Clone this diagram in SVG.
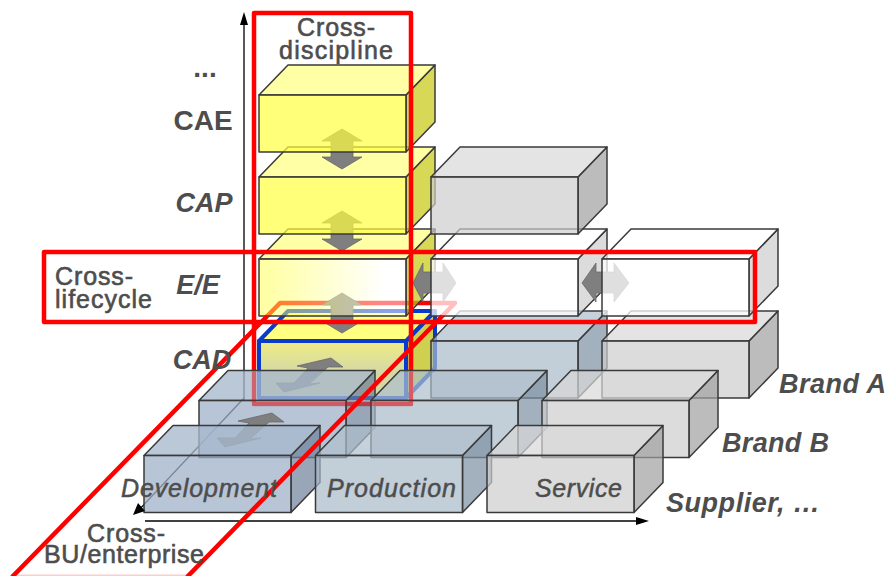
<svg xmlns="http://www.w3.org/2000/svg" width="887" height="576" viewBox="0 0 887 576">
<style>
.front,.top,.side{stroke:#3a3a3a;stroke-width:1.5;stroke-linejoin:round}
.y .front{fill:#ffff40;fill-opacity:.7}.y .top{fill:#ffff80;fill-opacity:.7}.y .side{fill:#c7c710;fill-opacity:.7}
.g .front{fill:#cdcdcd;fill-opacity:.7}.g .top{fill:#d8d8d8;fill-opacity:.7}.g .side{fill:#a0a0a0;fill-opacity:.7}
.w .front{fill:#fff;fill-opacity:.75}.w .top{fill:#fff;fill-opacity:.7}.w .side{fill:#cdcdcd;fill-opacity:.7}
.b .front{fill:#a0b2c8;fill-opacity:.75}.b .top{fill:#a8b9cd;fill-opacity:.78}.b .side{fill:#6c809a;fill-opacity:.7}
.p .front{fill:#a8b9c8;fill-opacity:.7}.p .top{fill:#aebfcc;fill-opacity:.7}.p .side{fill:#7c90a2;fill-opacity:.7}
.ee .front{fill:url(#eeg)}
.cad .front,.cad .top,.cad .side{stroke:#0a3ccc;stroke-width:4}
.cad .front{fill:url(#cadg);fill-opacity:1}.cad .top{fill:#ffff80;fill-opacity:1}.cad .side{fill:#cfcf50;fill-opacity:1}
.arrow{fill:#7f7f7f;stroke:#666;stroke-width:.75}
.red{fill:none;stroke:#f00;stroke-width:4.5;stroke-linejoin:round}
.axis{stroke:#000;stroke-width:1.3;fill:none}
.head{fill:#000}
text{font-family:"Liberation Sans",Arial,sans-serif;fill:#4d4d4d}
.lab{font-size:25px;font-weight:400;stroke:#4d4d4d;stroke-width:.6}
.bi{font-size:27px;font-weight:700;font-style:italic}
.bb{font-size:28px;font-weight:700}
.col{font-size:25px;font-style:italic;stroke:#4d4d4d;stroke-width:.5}
</style>
<defs>
<rect id="f" width="147" height="57"/>
<path id="t" d="M0 0L29-30H176L147 0Z"/>
<path id="s" d="M147 0L176-30V27L147 57Z"/>
<linearGradient id="eeg" x1="0" x2="1" y1="0" y2="0"><stop offset="0" stop-color="#ffff40" stop-opacity=".7"/><stop offset=".85" stop-color="#fff" stop-opacity=".75"/></linearGradient>
<linearGradient id="cadg" x1="0" x2="0" y1="0" y2="1"><stop offset="0" stop-color="#efec84"/><stop offset=".55" stop-color="#d4d9a4"/></linearGradient>
</defs>

<g id="connectors-axes">
<path class="axis" d="M244 400V20"/><path class="head" d="M244 12L248 25H240Z"/>
<path class="axis" d="M244 398L137 512"/>
</g>

<g id="box-cad" class="y cad" transform="translate(259 341)"><use href="#s" class="side"/><use href="#t" class="top"/><use href="#f" class="front"/></g>
<g id="box-brand-a-production" class="p" transform="translate(431 341)"><use href="#s" class="side"/><use href="#t" class="top"/><use href="#f" class="front"/></g>
<g id="box-brand-a-service" class="g" transform="translate(602 341)"><use href="#s" class="side"/><use href="#t" class="top"/><use href="#f" class="front"/></g>

<path id="cross-bu-under" class="red" d="M267.3 316L280 303H455L442.3 316"/>

<g id="connectors-1">
<polygon class="arrow" points="342,293 362,305 353,305 353,321 362,321 342,333 322,321 331,321 331,305 322,305"/>
</g>
<g id="box-ee" class="y ee" transform="translate(259 259)"><use href="#s" class="side"/><use href="#t" class="top"/><use href="#f" class="front"/></g>
<polygon class="arrow" points="413,283 423,263 423,272 443,272 443,263 456,283 443,302 443,293 423,293 423,302"/>
<g id="box-ee-2" class="w" transform="translate(431 259)"><use href="#s" class="side"/><use href="#t" class="top"/><use href="#f" class="front"/></g>
<polygon class="arrow" points="582,283 596,263 596,272 614,272 614,263 629,283 614,302 614,293 596,293 596,302"/>
<g id="box-ee-3" class="w" transform="translate(602 259)"><use href="#s" class="side"/><use href="#t" class="top"/><use href="#f" class="front"/></g>

<polygon class="arrow" points="342,211 362,223 353,223 353,239 362,239 342,251 322,239 331,239 331,223 322,223"/>
<g id="box-cap" class="y" transform="translate(259 177)"><use href="#s" class="side"/><use href="#t" class="top"/><use href="#f" class="front"/></g>
<g id="box-cap-2" class="g" transform="translate(431 177)"><use href="#s" class="side"/><use href="#t" class="top"/><use href="#f" class="front"/></g>
<polygon class="arrow" points="342,129 362,141 353,141 353,157 362,157 342,169 322,157 331,157 331,141 322,141"/>
<g id="box-cae" class="y" transform="translate(259 95)"><use href="#s" class="side"/><use href="#t" class="top"/><use href="#f" class="front"/></g>

<rect id="cross-discipline" class="red" x="254" y="13" width="157" height="391"/>

<polygon class="arrow" points="297,366 308,368 294,383 276,383 284,392 320,383 309,384 328,367 343,367 331,358"/>
<g id="box-b-dev" class="b" transform="translate(199 400.5)"><use href="#s" class="side"/><use href="#t" class="top"/><use href="#f" class="front"/></g>
<g id="box-b-prod" class="p" transform="translate(371 400.5)"><use href="#s" class="side"/><use href="#t" class="top"/><use href="#f" class="front"/></g>
<g id="box-b-serv" class="g" transform="translate(542 400.5)"><use href="#s" class="side"/><use href="#t" class="top"/><use href="#f" class="front"/></g>

<polygon class="arrow" points="238,421 249,423 235,438 217,438 225,447 261,438 250,439 269,422 284,422 272,413"/>
<g id="box-dev" class="b" transform="translate(144 455.5)"><use href="#s" class="side"/><use href="#t" class="top"/><use href="#f" class="front"/></g>
<g id="box-prod" class="p" transform="translate(315.5 455.5)"><use href="#s" class="side"/><use href="#t" class="top"/><use href="#f" class="front"/></g>
<g id="box-serv" class="g" transform="translate(487 455.5)"><use href="#s" class="side"/><use href="#t" class="top"/><use href="#f" class="front"/></g>

<g id="connectors-2">
<path class="head" d="M133 515L138 503L145 511Z"/>
<path class="axis" d="M145 521H640"/><path class="head" d="M649 521L636 525V517Z"/>
</g>

<g id="cross-bu-over">
<path class="red" d="M267.3 316L12 577M442.3 316L187 577"/>
<path d="M12 575.5H187" fill="none" stroke="#f00" stroke-width="2" stroke-opacity=".2"/>
<path d="M254 372V404H411V372" fill="none" stroke="#f00" stroke-width="4" stroke-opacity=".3"/>
</g>
<rect id="cross-lifecycle" class="red" x="44" y="252" width="711" height="70"/>

<g id="labels">
<text x="205" y="77" text-anchor="middle" class="bb">...</text>
<text x="203" y="130" text-anchor="middle" class="bb">CAE</text>
<text x="204" y="212" text-anchor="middle" class="bi">CAP</text>
<text x="198" y="294" text-anchor="middle" class="bi">E/E</text>
<text x="202" y="369" text-anchor="middle" class="bi">CAD</text>
<text x="297" y="36" class="lab" textLength="78">Cross-</text>
<text x="279" y="59" class="lab" textLength="114">discipline</text>
<text x="55" y="285" class="lab" textLength="78">Cross-</text>
<text x="55" y="308" class="lab" textLength="97">lifecycle</text>
<text x="87" y="542" class="lab" textLength="78">Cross-</text>
<text x="44" y="563" class="lab" textLength="160">BU/enterprise</text>
<text x="121" y="497" class="col" textLength="156">Development</text>
<text x="327" y="497" class="col" textLength="129">Production</text>
<text x="535" y="497" class="col" textLength="87">Service</text>
<text x="779" y="393" class="bi" textLength="107">Brand A</text>
<text x="722" y="452" class="bi" textLength="107">Brand B</text>
<text x="666" y="512" class="bi" textLength="154">Supplier, …</text>
</g>
</svg>
